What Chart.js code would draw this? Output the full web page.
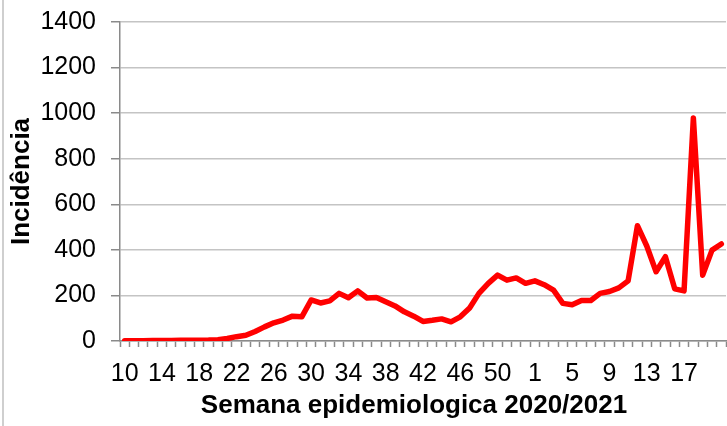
<!DOCTYPE html>
<html>
<head>
<meta charset="utf-8">
<script src="https://cdn.jsdelivr.net/npm/chart.js@4"></script>
<style>
  html, body { margin: 0; padding: 0; background: #ffffff; }
  #wrap { position: relative; width: 727px; height: 426px; overflow: hidden; }
  #edge { position: absolute; left: 2px; top: 0; width: 2px; height: 426px; background: #cfcfcf; }
  canvas { position: absolute; left: 0; top: 0; }
</style>
</head>
<body>
<div id="wrap">
  <canvas id="c" width="727" height="426"></canvas>
  <div id="edge"></div>
</div>
<script>
// Epidemiological weeks (2020: 10-53, 2021: 1-21)
const weeks = [
  '10','11','12','13','14','15','16','17','18','19',
  '20','21','22','23','24','25','26','27','28','29',
  '30','31','32','33','34','35','36','37','38','39',
  '40','41','42','43','44','45','46','47','48','49',
  '50','51','52','53',
  '1','2','3','4','5','6','7','8','9','10',
  '11','12','13','14','15','16','17','18','19','20','21'
];

// Incidence per week
const incidence = [
  1, 1, 1, 2, 2, 2, 3, 3, 3, 4,
  6, 11, 19, 25, 42, 62, 80, 92, 109, 106,
  180, 167, 176, 209, 190, 220, 189, 191, 172, 154,
  128, 109, 86, 91, 97, 84, 106, 145, 209, 253,
  289, 267, 277, 253,
  264, 247, 223, 165, 159, 178, 178, 209, 217, 233,
  264, 506, 417, 304, 370, 229, 220, 979, 289, 399, 426
];

// Y axis ticks
const yTicks = [0, 200, 400, 600, 800, 1000, 1200, 1400];

const xTitle = 'Semana epidemiologica 2020/2021';
const yTitle = 'Incidência';

const FONT = "'Liberation Sans', Arial, Helvetica, sans-serif";
const axisGray = '#8a8a8a';
const gridGray = '#c4c4c4';

// Draws the x axis title slightly left of the plot centre, as in the original
const xTitlePlugin = {
  id: 'xTitlePlugin',
  afterDraw(chart) {
    const ctx = chart.ctx;
    const area = chart.chartArea;
    ctx.save();
    ctx.font = 'bold 26px ' + FONT;
    ctx.fillStyle = '#000';
    ctx.textAlign = 'center';
    ctx.textBaseline = 'alphabetic';
    ctx.fillText(xTitle, (area.left + area.right) / 2 - 9, 413);
    ctx.restore();
  }
};

new Chart(document.getElementById('c'), {
  type: 'line',
  data: {
    labels: weeks,
    datasets: [{
      data: incidence,
      borderColor: '#ff0000',
      backgroundColor: '#ff0000',
      borderWidth: 5.5,
      pointRadius: 0,
      tension: 0,
      fill: false,
      borderJoinStyle: 'round',
      borderCapStyle: 'round'
    }]
  },
  plugins: [xTitlePlugin],
  options: {
    responsive: false,
    animation: false,
    devicePixelRatio: 1,
    layout: { padding: { left: 0, right: 1, top: 22, bottom: 0 } },
    plugins: { legend: { display: false }, tooltip: { enabled: false } },
    scales: {
      x: {
        type: 'category',
        offset: true,
        afterFit: (s) => { s.height = 85; s.paddingRight = 0; s.paddingLeft = 0; },
        grid: {
          display: true,
          offset: true,
          drawOnChartArea: false,
          drawTicks: true,
          tickLength: 6,
          tickColor: axisGray,
          tickWidth: 1.5
        },
        border: { display: true, color: axisGray, width: 1.5 },
        ticks: {
          autoSkip: false,
          maxRotation: 0,
          minRotation: 0,
          padding: 12,
          color: '#000',
          font: { family: FONT, size: 25 },
          callback: function (v, i) { return (i % 4 === 0 && i < 61) ? weeks[i] : ''; }
        },
        title: { display: false }
      },
      y: {
        min: 0,
        max: 1400,
        afterFit: (s) => { s.width = 120; s.paddingTop = 0; s.paddingBottom = 0; },
        afterBuildTicks: (s) => { s.ticks = yTicks.map(v => ({ value: v })); },
        grid: {
          color: gridGray,
          lineWidth: 1.5,
          tickLength: 9,
          tickColor: axisGray,
          tickWidth: 1.5
        },
        border: { display: true, color: axisGray, width: 1.5 },
        ticks: {
          padding: 15,
          color: '#000',
          font: { family: FONT, size: 25 },
          callback: (v) => String(v)
        },
        title: {
          display: true,
          text: yTitle,
          color: '#000',
          font: { family: FONT, size: 26, weight: 'bold', lineHeight: 1 },
          padding: { top: 9, bottom: 0 }
        }
      }
    }
  }
});
</script>
</body>
</html>
